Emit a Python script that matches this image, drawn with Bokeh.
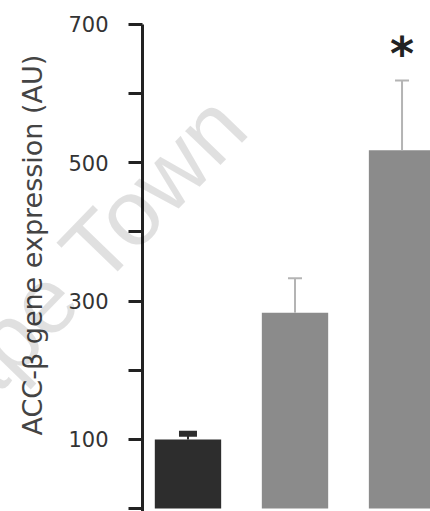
from bokeh.plotting import figure
from bokeh.models import ColumnDataSource, FixedTicker, Range1d, Title
from bokeh.embed import file_html
from bokeh.resources import INLINE
from bokeh.core.properties import value

# ---- data ----
groups = ["1", "2", "3"]
means = [100, 283, 518]
sems = [8, 50, 101]
significance = ["", "", "*"]
y_ticks = [0, 100, 200, 300, 400, 500, 600, 700]
y_tick_labels = ["", "100", "", "300", "", "500", "", "700"]
y_label = "ACC-\u03b2 gene expression (AU)"
watermark = "Cape Town"

# ---- styles ----
bar_colors = ["#2d2d2d", "#8b8b8b", "#8b8b8b"]
err_colors = ["#2d2d2d", "#b4b4b4", "#b4b4b4"]
cap_sizes = [18, 14, 14]
cap_widths = [6, 2, 2]

W, H = 430, 511
FRAME_LEFT = 142
X0, X1 = 0.575, 3.266
Y0, Y1 = -4.3, 734.7

def px_to_x(px):
    return X0 + (px - FRAME_LEFT) / (W - FRAME_LEFT) * (X1 - X0)

def py_to_y(py):
    return Y1 - py / H * (Y1 - Y0)

xs = list(range(1, len(groups) + 1))
upper = [m + s for m, s in zip(means, sems)]

src = ColumnDataSource(dict(x=xs, mean=means, upper=upper, sig=significance,
                            color=bar_colors, ecolor=err_colors,
                            cap=cap_sizes, capw=cap_widths))

p = figure(width=W, height=H, output_backend="svg", toolbar_location=None,
           x_range=Range1d(X0, X1), y_range=Range1d(Y0, Y1),
           x_axis_location=None,
           min_border_left=FRAME_LEFT, min_border_right=0,
           min_border_top=0, min_border_bottom=0)
p.outline_line_color = None
p.xgrid.visible = False
p.ygrid.visible = False
p.background_fill_color = "white"
p.border_fill_color = "white"

p.vbar(x="x", top="mean", bottom=0, width=0.62, fill_color="color", line_color=None, source=src)
p.segment(x0="x", y0="mean", x1="x", y1="upper", line_color="ecolor", line_width=2, source=src)
p.scatter(x="x", y="upper", marker="dash", size="cap", line_color="ecolor",
          line_width="capw", source=src)
p.text(x="x", y="upper", text="sig", text_font=value("DejaVu Sans"), text_font_size="46px",
       text_font_style="bold", text_align="center", text_baseline="alphabetic",
       y_offset=-27, text_color="#222222", source=src)

# faint diagonal watermark (drawn at overlay level so it is not clipped to the frame)
wm_src = ColumnDataSource(dict(x=[px_to_x(68)], y=[py_to_y(276)], t=[watermark]))
p.text(x="x", y="y", text="t", source=wm_src, angle=46, angle_units="deg",
       text_font=value("Liberation Sans"), text_font_size="93px", text_color="black",
       text_alpha=0.12, text_align="center", text_baseline="alphabetic", level="overlay")

ax = p.yaxis[0]
ax.ticker = FixedTicker(ticks=y_ticks)
ax.major_label_overrides = {t: l for t, l in zip(y_ticks, y_tick_labels)}
ax.bounds = (Y0 - 10, 700)
ax.axis_line_width = 3
ax.axis_line_color = "#222222"
ax.major_tick_line_width = 3
ax.major_tick_line_color = "#222222"
ax.major_tick_out = 14
ax.major_tick_in = 0
ax.minor_tick_out = 0
ax.minor_tick_in = 0
ax.major_label_standoff = 20
ax.major_label_text_font = "DejaVu Sans"
ax.major_label_text_font_size = "21px"
ax.major_label_text_color = "#333333"

ylab = Title(text=y_label, align="left", offset=76, vertical_align="top", standoff=32,
             text_font="DejaVu Sans", text_font_size="27px", text_font_style="normal",
             text_color="#444444")
p.add_layout(ylab, "left")

open("out.html", "w").write(file_html(p, INLINE))
